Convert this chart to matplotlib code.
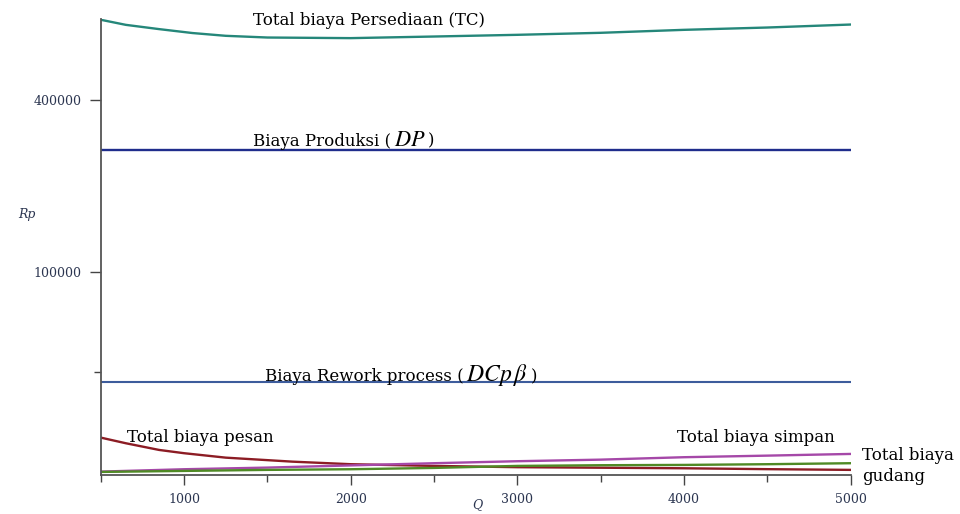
import numpy as np
import matplotlib
matplotlib.use("Agg")
from matplotlib import pyplot as plt
from matplotlib.ticker import FixedLocator, NullFormatter
from matplotlib.offsetbox import TextArea, HPacker, AnnotationBbox

# values (Rp)
Q = [500, 1000, 1500, 2000, 2500, 3000, 3500, 4000, 4500, 5000]
Q_tc = [500, 650, 850, 1050, 1250, 1500, 2000, 2500, 3000, 3500, 4000, 4500, 5000]
TC = [630500, 614000, 600300, 587900, 579200, 573900, 572000, 577000, 582300,
      588600, 598000, 605400, 615000]
DP = [287000] * len(Q)
rework = [20700] * len(Q)
Q_pesan = [500, 650, 850, 1000, 1250, 1650, 2000, 2500, 3000, 3500, 4000, 4500, 5000]
pesan = [4880, 3980, 3050, 2650, 2160, 1770, 1545, 1405, 1305, 1265, 1225, 1160, 1110]
simpan = [995, 1155, 1275, 1445, 1630, 1810, 1960, 2205, 2375, 2565]
gudang = [975, 1040, 1110, 1155, 1250, 1405, 1460, 1485, 1545, 1630]

y_major = [100000, 400000]
y_minor = [25000]
x_major = [1000, 2000, 3000, 4000, 5000]
x_minor = [500, 1500, 2500, 3500, 4500]

P = 0.391  # compressed value axis as in the original


def fwd(v):
    return np.power(np.clip(v, 1e-9, None), P)


def inv(v):
    return np.power(np.clip(v, 1e-9, None), 1.0 / P)


def mixed_label(ax, x, y, parts):
    # parts: list of (text, fontsize)
    boxes = [TextArea(t, textprops=dict(fontsize=s, family='DejaVu Serif'))
             for t, s in parts]
    pack = HPacker(children=boxes, align='baseline', pad=0, sep=2)
    ab = AnnotationBbox(pack, (x, y), xycoords='axes fraction',
                        box_alignment=(0, 0.5), frameon=False, pad=0)
    ax.add_artist(ab)


plt.rcParams['font.family'] = ['DejaVu Serif']
plt.rcParams['mathtext.fontset'] = 'stix'
fig = plt.figure(figsize=(9.6, 5.14), dpi=100)
ax = fig.add_axes([0.105, 0.076, 0.781, 0.887])
ax.set_yscale('function', functions=(fwd, inv))

ax.plot(Q_tc, TC, color='#25877a', lw=1.7)
ax.plot(Q, DP, color='#1f2d8c', lw=1.7)
ax.plot(Q, rework, color='#3d5c9c', lw=1.5)
ax.plot(Q_pesan, pesan, color='#8c1c24', lw=1.7)
ax.plot(Q, simpan, color='#a548a8', lw=1.7)
ax.plot(Q, gudang, color='#4f8a25', lw=1.7)

ax.set_xlim(500, 5000)
ax.set_ylim(794, 633000)

for s in ['top', 'right']:
    ax.spines[s].set_visible(False)
for s in ['left', 'bottom']:
    ax.spines[s].set_color('#555555')
    ax.spines[s].set_linewidth(1.3)

ax.yaxis.set_major_locator(FixedLocator(y_major))
ax.yaxis.set_minor_locator(FixedLocator(y_minor))
ax.set_yticklabels([str(v) for v in y_major])
ax.yaxis.set_minor_formatter(NullFormatter())
ax.xaxis.set_major_locator(FixedLocator(x_major))
ax.xaxis.set_minor_locator(FixedLocator(x_minor))
ax.set_xticklabels([str(v) for v in x_major])
ax.xaxis.set_minor_formatter(NullFormatter())
ax.tick_params(axis='both', which='major', length=8, width=1, color='#444444',
               labelsize=9, labelcolor='#2b3550', pad=6)
ax.tick_params(axis='both', which='minor', length=5, width=1, color='#444444')
ax.tick_params(axis='x', which='major', length=7)

fs = 12
ax.text(0.203, 0.996, 'Total biaya Persediaan (TC)', transform=ax.transAxes,
        fontsize=fs, va='center', ha='left', clip_on=False)
mixed_label(ax, 0.203, 0.735,
            [('Biaya Produksi (', fs), (r'$DP$', 16), (')', fs)])
mixed_label(ax, 0.219, 0.219,
            [('Biaya Rework process (', fs), (r'$DCp\,\beta$', 17), (')', fs)])
ax.text(0.035, 0.083, 'Total biaya pesan', transform=ax.transAxes,
        fontsize=fs, va='center', ha='left')
ax.text(0.768, 0.083, 'Total biaya simpan', transform=ax.transAxes,
        fontsize=fs, va='center', ha='left')
ax.text(1.015, 0.02, 'Total biaya\ngudang', transform=ax.transAxes,
        fontsize=fs, va='center', ha='left', linespacing=1.3, clip_on=False)

fig.text(18 / 960, 1 - 214 / 514, 'Rp', style='italic', fontsize=9,
         color='#2b3550', va='center')
fig.text(477 / 960, 1 - 505 / 514, 'Q', style='italic', fontsize=9,
         color='#2b3550', va='center', ha='center')

fig.savefig('out.png', dpi=100)
